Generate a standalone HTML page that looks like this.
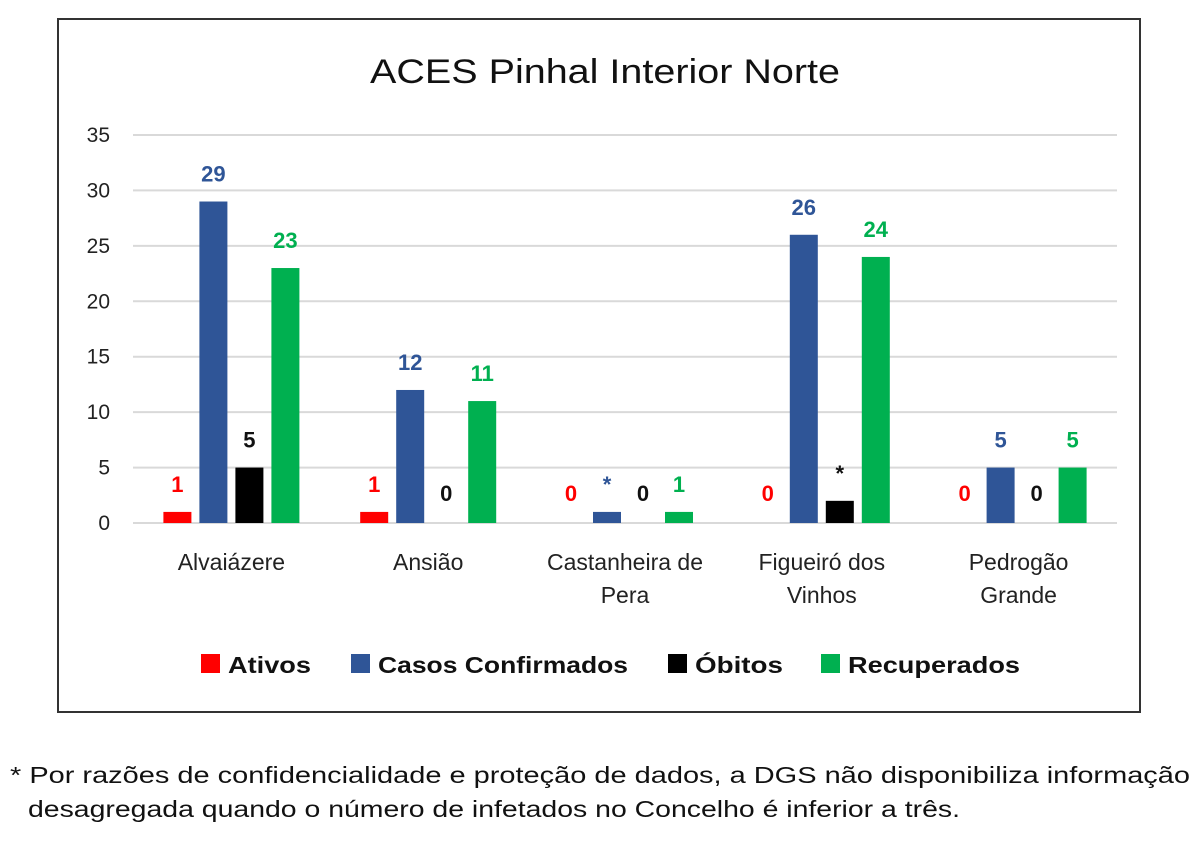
<!DOCTYPE html>
<html><head><meta charset="utf-8">
<style>
html,body{margin:0;padding:0;background:#fff;}
body{width:1200px;height:839px;overflow:hidden;font-family:"Liberation Sans","DejaVu Sans",sans-serif;}
</style></head>
<body>
<svg id="chart" width="1200" height="839" xmlns="http://www.w3.org/2000/svg" font-family="Liberation Sans, DejaVu Sans, sans-serif">
<rect x="58" y="19" width="1082" height="693" fill="#fff" stroke="#333" stroke-width="2"/>
<text x="370" y="83" font-size="34" textLength="470" lengthAdjust="spacingAndGlyphs" fill="#111">ACES Pinhal Interior Norte</text>
<g id="grid"></g><g id="bars"></g><g id="labels"></g>
<g font-size="23" font-weight="bold" fill="#111">
<rect x="201" y="654" width="19" height="19" fill="#ff0000"/>
<text x="228" y="673" textLength="83" lengthAdjust="spacingAndGlyphs">Ativos</text>
<rect x="351" y="654" width="19" height="19" fill="#2f5597"/>
<text x="378" y="673" textLength="250" lengthAdjust="spacingAndGlyphs">Casos Confirmados</text>
<rect x="668" y="654" width="19" height="19" fill="#000"/>
<text x="695" y="673" textLength="88" lengthAdjust="spacingAndGlyphs">Óbitos</text>
<rect x="821" y="654" width="19" height="19" fill="#00b050"/>
<text x="848" y="673" textLength="172" lengthAdjust="spacingAndGlyphs">Recuperados</text>
</g>
<g font-size="23" fill="#111">
<text x="10" y="783" textLength="1180" lengthAdjust="spacingAndGlyphs">* Por razões de confidencialidade e proteção de dados, a DGS não disponibiliza informação</text>
<text x="28" y="817" textLength="932" lengthAdjust="spacingAndGlyphs">desagregada quando o número de infetados no Concelho é inferior a três.</text>
</g>
</svg>
<script>
const categories=[["Alvaiázere"],["Ansião"],["Castanheira de","Pera"],["Figueiró dos","Vinhos"],["Pedrogão","Grande"]];
const ativos=[1,1,0,0,0];
const casos=[29,12,1,26,5];
const obitos=[5,0,0,2,0];
const recuperados=[23,11,1,24,5];
const casosLabels=["29","12","*","26","5"];
const obitosLabels=["5","0","0","*","0"];
const yTicks=[0,5,10,15,20,25,30,35];

const NS="http://www.w3.org/2000/svg";
const x0=133,x1=1117,y0=523,yTop=135,yMax=35;
const yS=v=>y0-(v/yMax)*(y0-yTop);
const band=(x1-x0)/categories.length;
const xC=i=>x0+band*(i+0.5);
function mk(tag,attrs,parent){const e=document.createElementNS(NS,tag);for(const k in attrs)e.setAttribute(k,attrs[k]);parent.appendChild(e);return e;}
const grid=document.getElementById('grid'),bars=document.getElementById('bars'),labels=document.getElementById('labels');
yTicks.forEach(t=>{
  const l=mk('line',{x1:x0,x2:x1,y1:yS(t),y2:yS(t),stroke:'#d9d9d9','stroke-width':2},grid);
  
  
  const tx=mk('text',{x:110,y:yS(t)+7,'font-size':21,'text-anchor':'end',fill:'#222'},grid);
  tx.textContent=t;
  
  
});
categories.forEach((c,i)=>{
  c.forEach((line,j)=>{
    const tx=mk('text',{x:xC(i),y:570+j*33,'font-size':23,'text-anchor':'middle',fill:'#222'},grid);
    tx.textContent=line;
    
    
  });
});
const series=[
 {name:'ativos',vals:ativos,labs:ativos.map(String),color:'#ff0000',lc:'#ff0000'},
 {name:'casos',vals:casos,labs:casosLabels,color:'#2f5597',lc:'#2f5597'},
 {name:'obitos',vals:obitos,labs:obitosLabels,color:'#000000',lc:'#111'},
 {name:'recuperados',vals:recuperados,labs:recuperados.map(String),color:'#00b050',lc:'#00b050'}
];
const bw=28,step=36;
series.forEach((s,k)=>{
  s.vals.forEach((v,i)=>{
    const cx=xC(i)+(k-1.5)*step;
    if(v>0){
      const r=mk('rect',{x:cx-bw/2,y:yS(v),width:bw,height:y0-yS(v),fill:s.color},bars);
      
      
    }
    const lab=s.labs[i];
    const t=mk('text',{x:cx,y:yS(v)-(v===0?22:20),'font-size':22,'font-weight':'bold','text-anchor':'middle',fill:s.lc},labels);
    t.textContent=lab;
    
    
  });
});
</script>
</body></html>
